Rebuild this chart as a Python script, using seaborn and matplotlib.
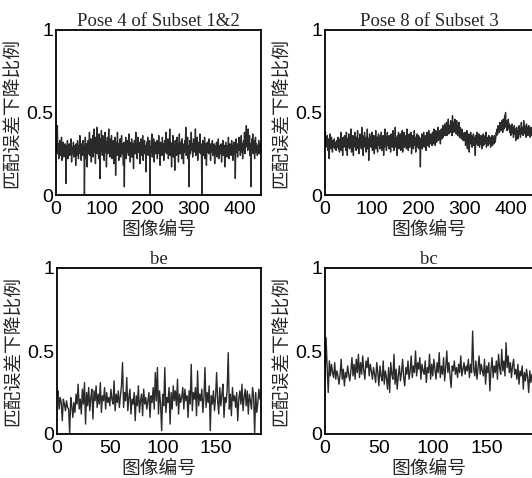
import numpy as np
import seaborn as sns
import matplotlib.pyplot as plt

# values (ratio of matching error reduction per image)
pose4 = [
    0.30, 0.34, 0.26, 0.42, 0.25, 0.31, 0.22, 0.28, 0.33, 0.24, 0.29, 0.27, 0.35, 0.21, 0.30, 0.26, 0.32, 0.23, 0.29, 0.28,
    0.31, 0.25, 0.07, 0.30, 0.27, 0.33, 0.22, 0.29, 0.26, 0.31, 0.24, 0.30, 0.28, 0.34, 0.20, 0.29, 0.27, 0.25, 0.32, 0.23,
    0.30, 0.26, 0.29, 0.18, 0.31, 0.27, 0.24, 0.33, 0.28, 0.22, 0.30, 0.26, 0.36, 0.25, 0.29, 0.21, 0.31, 0.28, 0.24, 0.33,
    0.27, 0.30, 0.00, 0.26, 0.35, 0.22, 0.29, 0.31, 0.17, 0.28, 0.33, 0.25, 0.30, 0.38, 0.24, 0.29, 0.34, 0.20, 0.31, 0.27,
    0.36, 0.23, 0.30, 0.40, 0.26, 0.32, 0.19, 0.35, 0.28, 0.41, 0.25, 0.33, 0.30, 0.22, 0.37, 0.29, 0.10, 0.34, 0.27, 0.39,
    0.31, 0.24, 0.36, 0.28, 0.33, 0.21, 0.30, 0.38, 0.26, 0.32, 0.17, 0.29, 0.35, 0.25, 0.31, 0.40, 0.27, 0.30, 0.23, 0.34,
    0.28, 0.36, 0.22, 0.31, 0.27, 0.33, 0.19, 0.30, 0.26, 0.35, 0.12, 0.29, 0.32, 0.24, 0.38, 0.27, 0.31, 0.21, 0.30, 0.26,
    0.34, 0.23, 0.29, 0.36, 0.25, 0.31, 0.28, 0.18, 0.32, 0.05, 0.30, 0.27, 0.35, 0.22, 0.29, 0.33, 0.26, 0.31, 0.24, 0.37,
    0.28, 0.32, 0.20, 0.30, 0.27, 0.34, 0.23, 0.29, 0.31, 0.16, 0.28, 0.33, 0.25, 0.30, 0.38, 0.27, 0.31, 0.22, 0.29, 0.35,
    0.26, 0.32, 0.28, 0.19, 0.30, 0.34, 0.24, 0.29, 0.27, 0.36, 0.21, 0.31, 0.28, 0.33, 0.25, 0.30, 0.14, 0.29, 0.32, 0.27,
    0.35, 0.24, 0.30, 0.28, 0.33, 0.00, 0.29, 0.26, 0.31, 0.37, 0.23, 0.30, 0.27, 0.34, 0.20, 0.29, 0.32, 0.25, 0.30, 0.28,
    0.33, 0.22, 0.31, 0.27, 0.36, 0.25, 0.29, 0.18, 0.32, 0.28, 0.30, 0.24, 0.35, 0.27, 0.31, 0.21, 0.29, 0.33, 0.26, 0.30,
    0.38, 0.25, 0.31, 0.28, 0.34, 0.22, 0.30, 0.27, 0.40, 0.24, 0.32, 0.29, 0.17, 0.31, 0.27, 0.36, 0.23, 0.30, 0.28, 0.15,
    0.33, 0.26, 0.30, 0.24, 0.35, 0.28, 0.31, 0.20, 0.29, 0.37, 0.25, 0.32, 0.27, 0.30, 0.22, 0.34, 0.28, 0.31, 0.19, 0.30,
    0.26, 0.33, 0.29, 0.41, 0.24, 0.31, 0.27, 0.35, 0.22, 0.30, 0.05, 0.28, 0.33, 0.25, 0.30, 0.38, 0.27, 0.31, 0.23, 0.29,
    0.34, 0.26, 0.30, 0.28, 0.40, 0.24, 0.31, 0.27, 0.35, 0.21, 0.29, 0.32, 0.26, 0.30, 0.37, 0.25, 0.31, 0.28, 0.00, 0.29,
    0.33, 0.24, 0.30, 0.27, 0.35, 0.22, 0.29, 0.31, 0.18, 0.28, 0.32, 0.26, 0.30, 0.25, 0.34, 0.27, 0.29, 0.21, 0.31, 0.26,
    0.28, 0.33, 0.24, 0.29, 0.27, 0.31, 0.19, 0.28, 0.30, 0.25, 0.32, 0.23, 0.29, 0.26, 0.34, 0.22, 0.28, 0.30, 0.25, 0.27,
    0.31, 0.20, 0.29, 0.26, 0.33, 0.24, 0.28, 0.30, 0.17, 0.27, 0.32, 0.25, 0.29, 0.23, 0.30, 0.27, 0.35, 0.22, 0.28, 0.31,
    0.26, 0.29, 0.24, 0.33, 0.27, 0.30, 0.21, 0.28, 0.32, 0.25, 0.30, 0.10, 0.29, 0.34, 0.26, 0.31, 0.23, 0.30, 0.28, 0.35,
    0.27, 0.32, 0.24, 0.30, 0.36, 0.26, 0.31, 0.22, 0.29, 0.33, 0.27, 0.38, 0.25, 0.31, 0.29, 0.42, 0.30, 0.35, 0.27, 0.40,
    0.33, 0.28, 0.36, 0.24, 0.31, 0.05, 0.29, 0.34, 0.27, 0.37, 0.25, 0.30, 0.33, 0.22, 0.29, 0.35, 0.26, 0.31, 0.28, 0.24,
    0.30, 0.27, 0.33, 0.25, 0.29, 0.31, 0.26,
]

pose8 = [
    0.33, 0.38, 0.29, 0.35, 0.31, 0.36, 0.27, 0.34, 0.30, 0.22, 0.33, 0.37, 0.28, 0.32, 0.35, 0.30, 0.26, 0.33, 0.31, 0.29,
    0.34, 0.28, 0.32, 0.30, 0.27, 0.33, 0.29, 0.31, 0.35, 0.28, 0.32, 0.26, 0.34, 0.30, 0.38, 0.27, 0.33, 0.31, 0.24, 0.35,
    0.32, 0.29, 0.36, 0.30, 0.33, 0.27, 0.38, 0.31, 0.24, 0.34, 0.29, 0.37, 0.32, 0.28, 0.35, 0.30, 0.40, 0.26, 0.33, 0.31,
    0.36, 0.24, 0.34, 0.30, 0.38, 0.29, 0.33, 0.27, 0.35, 0.31, 0.39, 0.28, 0.34, 0.25, 0.32, 0.37, 0.30, 0.35, 0.28, 0.41,
    0.31, 0.36, 0.24, 0.34, 0.30, 0.38, 0.29, 0.33, 0.26, 0.35, 0.31, 0.40, 0.28, 0.34, 0.21, 0.32, 0.37, 0.30, 0.35, 0.29,
    0.33, 0.38, 0.27, 0.34, 0.31, 0.36, 0.25, 0.33, 0.30, 0.39, 0.28, 0.35, 0.31, 0.26, 0.34, 0.37, 0.30, 0.33, 0.28, 0.36,
    0.31, 0.38, 0.27, 0.34, 0.30, 0.36, 0.24, 0.33, 0.29, 0.40, 0.31, 0.35, 0.27, 0.33, 0.38, 0.30, 0.34, 0.28, 0.36, 0.31,
    0.33, 0.26, 0.37, 0.30, 0.35, 0.29, 0.39, 0.32, 0.27, 0.34, 0.31, 0.41, 0.29, 0.35, 0.30, 0.24, 0.36, 0.32, 0.38, 0.28,
    0.34, 0.31, 0.37, 0.27, 0.33, 0.30, 0.39, 0.26, 0.35, 0.32, 0.38, 0.29, 0.34, 0.31, 0.36, 0.28, 0.40, 0.30, 0.35, 0.27,
    0.33, 0.37, 0.29, 0.35, 0.31, 0.38, 0.25, 0.34, 0.30, 0.36, 0.28, 0.33, 0.39, 0.30, 0.35, 0.26, 0.34, 0.31, 0.37, 0.29,
    0.33, 0.36, 0.28, 0.35, 0.31, 0.17, 0.34, 0.30, 0.37, 0.28, 0.35, 0.32, 0.38, 0.29, 0.34, 0.31, 0.36, 0.27, 0.33, 0.38,
    0.30, 0.35, 0.32, 0.39, 0.29, 0.34, 0.31, 0.37, 0.33, 0.36, 0.30, 0.38, 0.34, 0.31, 0.40, 0.33, 0.37, 0.30, 0.39, 0.35,
    0.32, 0.38, 0.35, 0.41, 0.33, 0.37, 0.34, 0.39, 0.31, 0.36, 0.40, 0.34, 0.38, 0.42, 0.35, 0.39, 0.37, 0.43, 0.36, 0.40,
    0.38, 0.44, 0.36, 0.41, 0.39, 0.46, 0.37, 0.42, 0.40, 0.38, 0.45, 0.39, 0.43, 0.36, 0.48, 0.40, 0.44, 0.38, 0.42, 0.46,
    0.39, 0.43, 0.37, 0.45, 0.40, 0.36, 0.42, 0.38, 0.44, 0.35, 0.41, 0.37, 0.39, 0.34, 0.40, 0.36, 0.38, 0.33, 0.37, 0.35,
    0.33, 0.38, 0.30, 0.36, 0.34, 0.39, 0.28, 0.35, 0.32, 0.37, 0.26, 0.34, 0.31, 0.38, 0.33, 0.36, 0.29, 0.35, 0.32, 0.37,
    0.30, 0.35, 0.33, 0.24, 0.36, 0.31, 0.34, 0.38, 0.30, 0.35, 0.32, 0.37, 0.29, 0.34, 0.31, 0.36, 0.33, 0.28, 0.35, 0.32,
    0.37, 0.30, 0.34, 0.31, 0.36, 0.33, 0.38, 0.29, 0.35, 0.32, 0.34, 0.30, 0.36, 0.33, 0.31, 0.35, 0.29, 0.34, 0.32, 0.36,
    0.30, 0.35, 0.33, 0.31, 0.36, 0.34, 0.32, 0.35, 0.38, 0.36, 0.40, 0.37, 0.42, 0.39, 0.41, 0.38, 0.44, 0.40, 0.43, 0.39,
    0.45, 0.41, 0.38, 0.46, 0.42, 0.40, 0.48, 0.43, 0.50, 0.41, 0.45, 0.39, 0.44, 0.42, 0.46, 0.40, 0.43, 0.38, 0.42, 0.36,
    0.40, 0.37, 0.43, 0.39, 0.41, 0.35, 0.39, 0.42, 0.37, 0.40, 0.33, 0.38, 0.41, 0.36, 0.39, 0.34, 0.38, 0.42, 0.37, 0.40,
    0.35, 0.39, 0.44, 0.37, 0.41, 0.38, 0.36, 0.45, 0.39, 0.42, 0.37, 0.40, 0.35, 0.43, 0.38, 0.41, 0.36, 0.39, 0.42, 0.37,
    0.40, 0.35, 0.38, 0.41, 0.36, 0.39, 0.37,
]

be = [
    0.24, 0.26, 0.15, 0.22, 0.19, 0.08, 0.21, 0.18, 0.14, 0.20, 0.16, 0.15, 0.00, 0.22, 0.17, 0.10, 0.19, 0.13, 0.24, 0.18,
    0.30, 0.15, 0.21, 0.12, 0.27, 0.18, 0.31, 0.06, 0.25, 0.17, 0.28, 0.14, 0.22, 0.27, 0.09, 0.26, 0.20, 0.29, 0.16, 0.24,
    0.18, 0.31, 0.13, 0.23, 0.20, 0.28, 0.15, 0.25, 0.19, 0.22, 0.17, 0.27, 0.21, 0.18, 0.32, 0.14, 0.24, 0.19, 0.26, 0.16,
    0.23, 0.29, 0.43, 0.16, 0.25, 0.20, 0.34, 0.14, 0.22, 0.27, 0.12, 0.21, 0.18, 0.25, 0.08, 0.23, 0.17, 0.29, 0.13, 0.20,
    0.24, 0.11, 0.27, 0.18, 0.22, 0.15, 0.20, 0.25, 0.10, 0.23, 0.19, 0.28, 0.15, 0.37, 0.20, 0.40, 0.12, 0.26, 0.18, 0.02,
    0.24, 0.17, 0.40, 0.13, 0.22, 0.19, 0.28, 0.06, 0.25, 0.15, 0.29, 0.20, 0.26, 0.17, 0.33, 0.12, 0.24, 0.19, 0.22, 0.28,
    0.15, 0.27, 0.20, 0.23, 0.10, 0.26, 0.18, 0.42, 0.14, 0.25, 0.21, 0.28, 0.11, 0.38, 0.17, 0.24, 0.20, 0.27, 0.13, 0.22,
    0.40, 0.16, 0.25, 0.19, 0.29, 0.02, 0.23, 0.18, 0.26, 0.14, 0.22, 0.37, 0.20, 0.12, 0.28, 0.17, 0.24, 0.30, 0.10, 0.22,
    0.19, 0.27, 0.49, 0.15, 0.24, 0.11, 0.28, 0.20, 0.23, 0.16, 0.25, 0.08, 0.21, 0.26, 0.18, 0.30, 0.14, 0.22, 0.27, 0.17,
    0.26, 0.12, 0.24, 0.20, 0.15, 0.28, 0.23, 0.00, 0.25, 0.13, 0.19, 0.27, 0.21,
]

bc = [
    0.32, 0.58, 0.40, 0.25, 0.44, 0.35, 0.42, 0.37, 0.34, 0.43, 0.33, 0.38, 0.35, 0.30, 0.36, 0.45, 0.33, 0.39, 0.29, 0.37,
    0.34, 0.41, 0.36, 0.32, 0.38, 0.46, 0.35, 0.42, 0.33, 0.45, 0.37, 0.48, 0.34, 0.43, 0.36, 0.47, 0.38, 0.33, 0.44, 0.40,
    0.46, 0.35, 0.42, 0.38, 0.33, 0.40, 0.36, 0.31, 0.43, 0.37, 0.29, 0.41, 0.35, 0.32, 0.44, 0.30, 0.38, 0.34, 0.27, 0.40,
    0.25, 0.43, 0.36, 0.33, 0.48, 0.30, 0.39, 0.27, 0.35, 0.41, 0.32, 0.37, 0.45, 0.34, 0.29, 0.40, 0.36, 0.44, 0.33, 0.38,
    0.47, 0.34, 0.41, 0.37, 0.50, 0.35, 0.43, 0.39, 0.46, 0.33, 0.42, 0.38, 0.36, 0.44, 0.31, 0.40, 0.37, 0.48, 0.33, 0.42,
    0.35, 0.45, 0.39, 0.33, 0.43, 0.37, 0.49, 0.34, 0.41, 0.36, 0.46, 0.32, 0.40, 0.50, 0.37, 0.43, 0.35, 0.28, 0.41, 0.38,
    0.44, 0.36, 0.40, 0.34, 0.42, 0.37, 0.47, 0.35, 0.39, 0.43, 0.36, 0.41, 0.38, 0.45, 0.34, 0.42, 0.37, 0.62, 0.39, 0.35,
    0.44, 0.33, 0.40, 0.47, 0.36, 0.42, 0.38, 0.35, 0.45, 0.30, 0.41, 0.37, 0.43, 0.26, 0.39, 0.46, 0.34, 0.41, 0.37, 0.44,
    0.33, 0.48, 0.40, 0.36, 0.51, 0.38, 0.44, 0.35, 0.55, 0.40, 0.47, 0.37, 0.43, 0.34, 0.41, 0.45, 0.36, 0.39, 0.33, 0.42,
    0.30, 0.38, 0.35, 0.41, 0.27, 0.37, 0.32, 0.39, 0.34, 0.25, 0.38, 0.31, 0.36,
]

titles = ["Pose 4 of Subset 1&2", "Pose 8 of Subset 3", "be", "bc"]
series = [pose4, pose8, be, bc]
xticks = [[0, 100, 200, 300, 400], [0, 100, 200, 300, 400], [0, 50, 100, 150], [0, 50, 100, 150]]
ylabel = "匹配误差下降比例"
xlabel = "图像编号"

sns.set_style("white")
plt.rcParams['font.family'] = ['Liberation Sans', 'Noto Sans CJK SC']

W, H = 532, 478
fig = plt.figure(figsize=(W / 100, H / 100), dpi=100)

# axes boxes in pixels: left, top, right, bottom
boxes = [(56, 30, 261, 195), (325, 30, 533, 195), (57, 268, 261, 434), (325, 268, 533, 434)]

for box, vals, title, xt in zip(boxes, series, titles, xticks):
    l, t, r, b = box
    ax = fig.add_axes([l / W, 1 - b / H, (r - l) / W, (b - t) / H])
    x = np.arange(len(vals))
    sns.lineplot(x=x, y=vals, ax=ax, color='#2a2a2a', linewidth=1.0)
    ax.set_xlim(0, len(vals))
    ax.set_ylim(0, 1)
    ax.set_xticks(xt)
    ax.set_yticks([0, 0.5, 1])
    ax.set_yticklabels(["0", "0.5", "1"])
    ax.tick_params(direction='in', length=5, width=1, labelsize=14, colors='black')
    ax.tick_params(axis='x', pad=4)
    ax.tick_params(axis='y', pad=2)
    for s in ax.spines.values():
        s.set_color('black')
        s.set_linewidth(1.3)
    ax.set_title(title, fontsize=13.5, family='Liberation Serif', pad=3)
    ax.set_xlabel(xlabel, fontsize=13.5, family=['Noto Sans CJK SC'], fontweight='medium', labelpad=1)
    ax.set_ylabel(ylabel, fontsize=13.5, family=['Noto Sans CJK SC'], fontweight='medium', labelpad=2)

fig.savefig("out.png", dpi=100)
